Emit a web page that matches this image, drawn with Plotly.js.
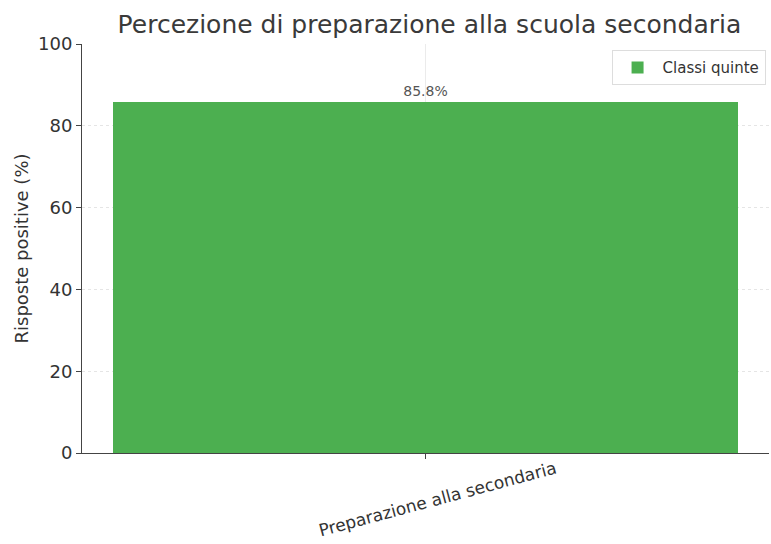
<!DOCTYPE html>
<html><head><meta charset="utf-8">
<script src="https://cdn.plot.ly/plotly-3.0.1.min.js"></script>
<style>body{margin:0;padding:0;background:#fff}#c{width:771px;height:544px}</style>
</head><body><div id="c"></div>
<script>
const categories = ["Preparazione alla secondaria"];
const values = [85.8];
const seriesName = "Classi quinte";
const yTicks = [0, 20, 40, 60, 80, 100];

const trace = {
  type: 'bar', x: categories, y: values, name: seriesName,
  width: 0.8, marker: {color: '#4CAF50'},
  text: values.map(v => v.toFixed(1) + '%'), textposition: 'outside',
  textfont: {family: 'DejaVu Sans', size: 14, color: '#555'},
  cliponaxis: false, showlegend: true
};
const layout = {
  width: 771, height: 544,
  margin: {l: 82, r: 2, t: 44, b: 91},
  paper_bgcolor: '#fff', plot_bgcolor: '#fff',
  font: {family: 'DejaVu Sans', color: '#333'},
  title: {text: 'Percezione di preparazione alla scuola secondaria', x: 0.557, xanchor: 'center', y: 0.955, yanchor: 'middle', font: {family: 'DejaVu Sans', size: 25, color: '#3a3a3a'}},
  xaxis: {type: 'category', range: [-0.44, 0.44], showline: true, linecolor: '#444', linewidth: 1,
    ticks: 'outside', ticklen: 5, tickcolor: '#444', showticklabels: false,
    showgrid: true, gridcolor: 'rgba(0,0,0,0.08)', gridwidth: 1, zeroline: false},
  yaxis: {range: [0, 100], tickvals: yTicks, showline: true, linecolor: '#444', linewidth: 1,
    ticks: 'outside', ticklen: 5, tickcolor: '#444', tickfont: {size: 18, color: '#333'},
    showgrid: true, gridcolor: 'rgba(0,0,0,0.1)', griddash: 'dot', zeroline: false,
    title: {text: 'Risposte positive (%)', font: {size: 18, color: '#333'}, standoff: 4}},
  legend: {x: 0.995, y: 0.985, xanchor: 'right', yanchor: 'top', bgcolor: 'rgba(255,255,255,0.8)',
    bordercolor: '#ddd', borderwidth: 1, font: {size: 15, color: '#333'}, itemwidth: 40},
  annotations: [{
    x: categories[0], y: 0, xref: 'x', yref: 'y', text: categories[0], showarrow: false,
    textangle: -15, yshift: -46, xshift: 12, font: {size: 17, color: '#333'}
  }],
  bargap: 0
};
Plotly.newPlot('c', [trace], layout, {displayModeBar: false, staticPlot: true});
</script></body></html>
